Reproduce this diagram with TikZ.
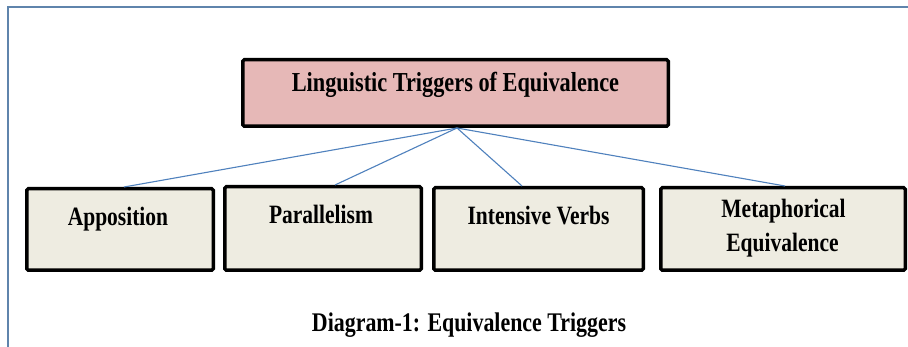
\documentclass[tikz,border=0pt]{standalone}
\usepackage{fontspec}
\setmainfont{Liberation Serif}
\definecolor{framecol}{HTML}{5F84AC}
\definecolor{linkcol}{HTML}{4F81BD}
\definecolor{topfill}{HTML}{E6B8B7}
\definecolor{subfill}{HTML}{EEECE1}
\newcommand{\lbltext}[1]{\scalebox{1}[1.23]{#1}}
\begin{document}
\begin{tikzpicture}[x=1pt,y=-1pt,
  boxstyle/.style={draw=black,line width=3.5pt,rounded corners=1.5pt,inner sep=0pt},
  topbox/.style={boxstyle,fill=topfill},
  subbox/.style={boxstyle,fill=subfill},
  txt/.style={anchor=base,inner sep=0pt,font=\fontsize{21.5}{26}\selectfont\bfseries},
  link/.style={draw=linkcol,line width=1.1pt}]
\useasboundingbox (0,0) rectangle (908,347);
\fill[white] (0,0) rectangle (908,347);
% frame
\draw[framecol,line width=2pt] (8,347) -- (8,7.5) -- (908,7.5);
% boxes
\node[topbox,minimum width=425.5pt,minimum height=66.5pt] (top) at (455.5,93) {};
\node[subbox,minimum width=186.5pt,minimum height=81.5pt] (A) at (120,229.5) {};
\node[subbox,minimum width=196.5pt,minimum height=83.5pt] (P) at (323,228.5) {};
\node[subbox,minimum width=209.5pt,minimum height=82.5pt] (I) at (538.5,229) {};
\node[subbox,minimum width=244.5pt,minimum height=82.5pt] (M) at (783,229) {};
% connectors
\draw[link] ([xshift=1.5pt]top.south) -- ([xshift=4pt]A.north);
\draw[link] ([xshift=1.5pt]top.south) -- ([xshift=12pt]P.north);
\draw[link] ([xshift=1.5pt]top.south) -- ([xshift=-16.5pt]I.north);
\draw[link] ([xshift=1.5pt]top.south) -- ([xshift=2pt]M.north);
% texts
\node[txt,font=\fontsize{22.3}{26}\selectfont\bfseries] (tt) at (455.5,92) {\lbltext{Linguistic Triggers of Equivalence}};
\node[txt] (ta) at (118,226) {\lbltext{Apposition}};
\node[txt] (tp) at (321,224) {\lbltext{Parallelism}};
\node[txt] (ti) at (538.5,225) {\lbltext{Intensive Verbs}};
\node[txt] (tm1) at (783.5,218) {\lbltext{Metaphorical}};
\node[txt] (tm2) at (782.5,252) {\lbltext{Equivalence}};
\node[txt,font=\fontsize{21.9}{26}\selectfont\bfseries] (cap) at (469,332) {\lbltext{Diagram-1: Equivalence Triggers}};
\end{tikzpicture}
\end{document}
